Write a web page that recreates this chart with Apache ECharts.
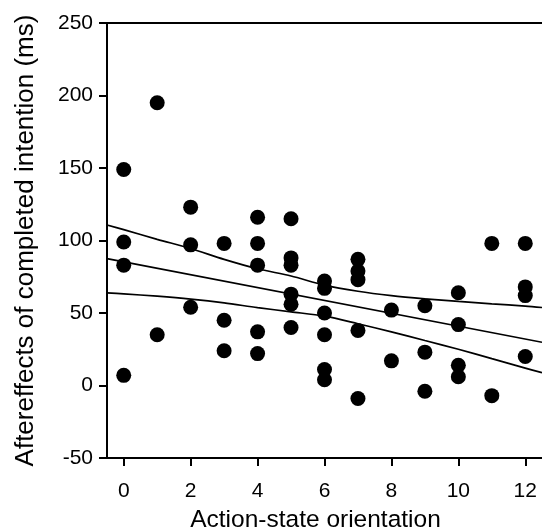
<!DOCTYPE html>
<html>
<head>
<meta charset="utf-8">
<script src="https://cdn.jsdelivr.net/npm/echarts@6/dist/echarts.min.js"></script>
<style>
  html, body { margin: 0; padding: 0; background: #fff; }
  #main { width: 542px; height: 532px; }
</style>
</head>
<body>
<div id="main"></div>
<script>
  // scatter points
  var pointX = [0, 0, 0, 0,
    1, 1,
    2, 2, 2,
    3, 3, 3,
    4, 4, 4, 4, 4,
    5, 5, 5, 5, 5, 5,
    6, 6, 6, 6, 6, 6,
    7, 7, 7, 7, 7,
    8, 8,
    9, 9, 9,
    10, 10, 10, 10,
    11, 11,
    12, 12, 12, 12];
  var pointY = [149, 99, 83, 7,
    195, 35,
    123, 97, 54,
    98, 45, 24,
    116, 98, 83, 37, 22,
    115, 88, 83, 63, 56, 40,
    72, 67, 50, 35, 11, 4,
    87, 79, 73, 38, -9,
    52, 17,
    55, 23, -4,
    64, 42, 14, 6,
    98, -7,
    98, 68, 62, 20];

  // regression line + confidence band
  var fitX = [-0.5, 12.5];
  var fitY = [87.5, 29.8];
  var bandX = [-0.5, 0, 1, 2, 3, 4, 5, 6, 7, 8, 9, 10, 11, 12, 12.5];
  var bandUpper = [110.7, 107.5, 100.8, 94.5, 87, 80.5, 75.5, 69.2, 65, 62, 59.8, 58, 56.3, 54.8, 53.8];
  var bandLower = [63.9, 63.2, 61.6, 59.6, 57, 53.7, 50.8, 47.8, 42.6, 37, 31, 25, 18.5, 12, 8.8];

  var xTicks = [0, 2, 4, 6, 8, 10, 12];

  function pairs(xs, ys) {
    return xs.map(function (x, i) { return [x, ys[i]]; });
  }

  var font = 'Liberation Sans';
  var black = '#000';

  var myChart = echarts.init(document.getElementById('main'));
  myChart.setOption({
    animation: false,
    backgroundColor: '#fff',
    grid: {
      left: 107,
      right: 0,
      top: 23,
      bottom: 74,
      containLabel: false,
      outerBoundsMode: 'none'
    },
    xAxis: [{
      type: 'value',
      min: -0.5,
      max: 12.5,
      position: 'bottom',
      name: 'Action-state orientation',
      nameLocation: 'middle',
      nameGap: 50,
      nameTextStyle: {
        fontFamily: font,
        fontSize: 24.5,
        color: black,
        padding: [0, 18, 0, 0]
      },
      axisLine: {
        show: true,
        onZero: false,
        lineStyle: {color: black, width: 2}
      },
      axisTick: {
        show: true,
        customValues: xTicks,
        length: 8,
        lineStyle: {color: black, width: 2}
      },
      axisLabel: {
        customValues: xTicks,
        fontFamily: font,
        fontSize: 21,
        color: black,
        margin: 23
      },
      splitLine: {show: false}
    }, {
      type: 'value',
      min: -0.5,
      max: 12.5,
      position: 'top',
      axisLine: {
        show: true,
        onZero: false,
        lineStyle: {color: black, width: 2}
      },
      axisTick: {show: false},
      axisLabel: {show: false},
      splitLine: {show: false}
    }],
    yAxis: {
      type: 'value',
      min: -50,
      max: 250,
      interval: 50,
      name: 'Aftereffects of completed intention (ms)',
      nameLocation: 'middle',
      nameGap: 68,
      nameTextStyle: {
        fontFamily: font,
        fontSize: 26,
        color: black
      },
      axisLine: {
        show: true,
        onZero: false,
        lineStyle: {color: black, width: 2}
      },
      axisTick: {
        show: true,
        length: 8,
        lineStyle: {color: black, width: 2}
      },
      axisLabel: {
        fontFamily: font,
        fontSize: 21,
        color: black,
        margin: 14
      },
      splitLine: {show: false}
    },
    series: [{
      type: 'line',
      data: pairs(bandX, bandUpper),
      smooth: 0.3,
      showSymbol: false,
      lineStyle: {color: black, width: 1.7}
    }, {
      type: 'line',
      data: pairs(fitX, fitY),
      showSymbol: false,
      lineStyle: {color: black, width: 1.7}
    }, {
      type: 'line',
      data: pairs(bandX, bandLower),
      smooth: 0.3,
      showSymbol: false,
      lineStyle: {color: black, width: 1.7}
    }, {
      type: 'scatter',
      data: pairs(pointX, pointY),
      symbolSize: 15,
      itemStyle: {color: black, opacity: 1}
    }]
  });
</script>
</body>
</html>
